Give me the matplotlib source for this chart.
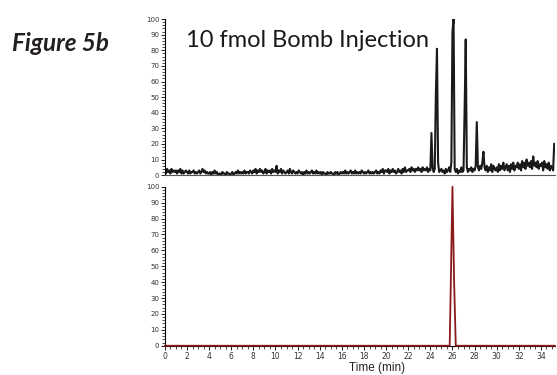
import numpy as np
import matplotlib

matplotlib.use("Agg")
import matplotlib.pyplot as plt
from matplotlib.ticker import MultipleLocator

# top trace: relative abundance read every 0.1 min from 0.0 to 35.2
top_step = 0.1
top_values = [
    3, 1, 4, 2, 3, 1, 4, 2, 3, 2,
    3, 1, 3, 2, 4, 1, 3, 1, 2, 3,
    2, 1, 3, 1, 2, 2, 3, 1, 2, 1,
    2, 3, 1, 2, 4, 2, 3, 1, 2, 1,
    1, 2, 0, 2, 1, 3, 1, 2, 0, 1,
    1, 0, 2, 1, 1, 0, 2, 1, 1, 0,
    1, 2, 0, 1, 2, 1, 3, 1, 2, 1,
    2, 1, 3, 1, 2, 2, 1, 3, 2, 1,
    3, 2, 4, 1, 3, 2, 4, 2, 3, 1,
    2, 4, 1, 3, 2, 3, 1, 4, 2, 3,
    2, 6, 1, 3, 2, 4, 1, 3, 2, 1,
    2, 3, 1, 4, 2, 1, 3, 2, 1, 2,
    1, 3, 2, 1, 2, 0, 2, 1, 3, 1,
    2, 1, 2, 3, 1, 2, 1, 3, 1, 2,
    1, 2, 0, 2, 1, 1, 0, 2, 1, 1,
    2, 1, 1, 0, 2, 1, 2, 0, 1, 2,
    1, 2, 1, 3, 1, 2, 1, 2, 3, 1,
    2, 1, 3, 1, 2, 1, 2, 1, 3, 2,
    1, 2, 1, 2, 3, 1, 2, 1, 2, 1,
    2, 3, 1, 2, 1, 3, 2, 4, 1, 3,
    3, 2, 4, 1, 3, 2, 4, 2, 3, 1,
    2, 4, 2, 3, 1, 4, 2, 5, 2, 3,
    3, 4, 2, 5, 3, 4, 2, 4, 3, 5,
    3, 4, 2, 5, 3, 4, 3, 5, 2, 4,
    3, 27, 5, 2, 4, 52, 81, 8, 2, 3,
    4, 2, 3, 1, 4, 2, 3, 5, 2, 8,
    92, 100, 4, 2, 4, 1, 3, 2, 5, 2,
    3, 42, 87, 5, 2, 4, 3, 5, 2, 4,
    3, 6, 34, 5, 3, 6, 4, 8, 15, 5,
    3, 6, 2, 5, 3, 7, 2, 6, 4, 3,
    5, 2, 7, 3, 6, 4, 8, 3, 5, 7,
    3, 6, 2, 7, 4, 8, 3, 6, 5, 8,
    4, 7, 3, 9, 5, 8, 4, 10, 6, 8,
    5, 9, 4, 12, 6, 8, 5, 9, 4, 7,
    6, 8, 3, 9, 5, 7, 4, 8, 3, 6,
    5, 3, 20,
]

# bottom trace: single peak
bottom_times = [0.0, 25.75, 25.85, 26.0, 26.15, 26.3, 35.25]
bottom_values = [0, 0, 40, 100, 40, 0, 0]

x_max = 35.25
title_text = "10 fmol Bomb Injection"
fig_label = "Figure 5b"

top_times = np.arange(len(top_values)) * top_step

fig = plt.figure(figsize=(5.57, 3.75), dpi=100)
ax_top = fig.add_axes([0.296, 0.533, 0.70, 0.416])
ax_bot = fig.add_axes([0.296, 0.078, 0.70, 0.424])

ax_top.plot(top_times, top_values, color="#1a1a1a", lw=1.5)
ax_bot.plot(bottom_times, bottom_values, color="#8b1a1a", lw=1.3, clip_on=False, zorder=5)

for ax in (ax_top, ax_bot):
    ax.set_xlim(0, x_max)
    ax.set_ylim(0, 100)
    for side in ("top", "right"):
        ax.spines[side].set_visible(False)
    ax.spines["left"].set_linewidth(0.8)
    ax.spines["bottom"].set_linewidth(0.8)
    ax.yaxis.set_major_locator(MultipleLocator(10))
    ax.yaxis.set_minor_locator(MultipleLocator(2))
    ax.tick_params(axis="y", which="major", direction="out", length=3, width=0.6,
                   labelsize=5, labelcolor="#333333", pad=1)
    ax.tick_params(axis="y", which="minor", direction="out", length=2, width=0.5)

ax_top.tick_params(axis="x", which="both", bottom=False, labelbottom=False)
ax_top.spines["bottom"].set_color("#555555")

ax_bot.xaxis.set_major_locator(MultipleLocator(2))
ax_bot.xaxis.set_minor_locator(MultipleLocator(0.5))
ax_bot.tick_params(axis="x", which="major", direction="out", length=3, width=0.6,
                   labelsize=5.5, labelcolor="#333333", pad=1.5)
ax_bot.tick_params(axis="x", which="minor", direction="out", length=2, width=0.5)
ax_bot.set_xlabel("Time (min)", fontsize=8.5, color="#222222", family="Liberation Sans")
ax_bot.xaxis.set_label_coords(0.544, -0.105)

ax_top.text(0.055, 0.822, title_text, transform=ax_top.transAxes, fontsize=17,
            family="Lato", fontweight="normal", color="#1a1a1a", va="baseline")
fig.text(0.022, 0.885, fig_label, fontsize=17.5, family="Lato", fontweight="bold",
         style="italic", color="#231f20", va="center")

fig.savefig("out.png", dpi=100)
